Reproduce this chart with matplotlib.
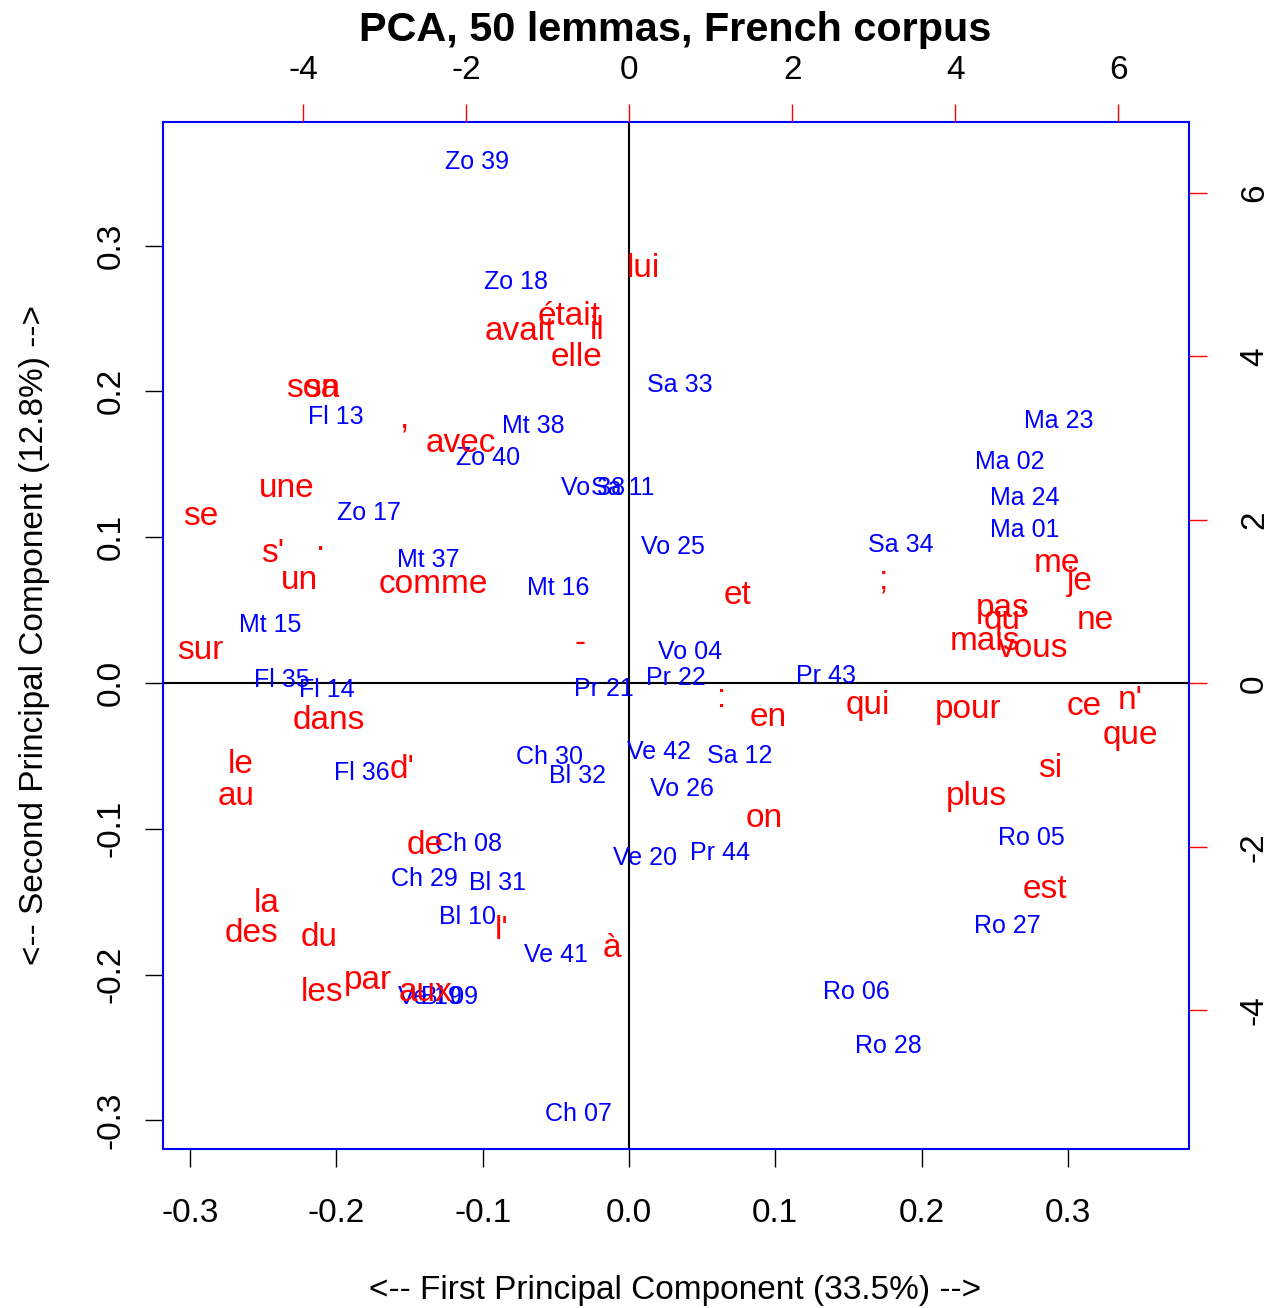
import matplotlib
matplotlib.use("Agg")
from matplotlib import pyplot as plt
import numpy as np

plt.rcParams['font.family'] = ['Liberation Sans', 'DejaVu Sans']
plt.rcParams['axes.unicode_minus'] = False

# observations (texts), first/second principal component scores
obs_labels = ["Zo 39", "Zo 18", "Sa 33", "Fl 13", "Mt 38", "Zo 40", "Ma 23", "Ma 02",
              "Ma 24", "Ma 01", "Vo 38", "Sa 11", "Zo 17", "Vo 25", "Sa 34", "Mt 37",
              "Mt 16", "Mt 15", "Vo 04", "Pr 22", "Pr 43", "Fl 35", "Fl 14", "Pr 21",
              "Ch 30", "Bl 32", "Ve 42", "Sa 12", "Fl 36", "Vo 26", "Ro 05", "Ch 08",
              "Ve 20", "Pr 44", "Ch 29", "Bl 31", "Ro 27", "Bl 10", "Ve 41", "Ro 06",
              "Ve 19", "Bl 09", "Ro 28", "Ch 07"]
obs_pc1 = [-0.1039, -0.0772, 0.0349, -0.2003, -0.0656, -0.0964, 0.2939, 0.2604,
           0.2707, 0.2707, -0.0246, -0.0041, -0.1777, 0.0301, 0.1859, -0.1374,
           -0.0485, -0.2454, 0.0417, 0.0321, 0.1347, -0.2372, -0.2064, -0.0171,
           -0.0540, -0.0355, 0.0205, 0.0759, -0.1825, 0.0362, 0.2748, -0.1100,
           0.0109, 0.0622, -0.1401, -0.0902, 0.2584, -0.1107, -0.0499, 0.1552,
           -0.1360, -0.1224, 0.1770, -0.0342]
obs_pc2 = [0.3573, 0.2750, 0.2044, 0.1824, 0.1763, 0.1543, 0.1797, 0.1516,
           0.1269, 0.1049, 0.1337, 0.1337, 0.1166, 0.0933, 0.0947, 0.0844,
           0.0652, 0.0398, 0.0213, 0.0034, 0.0048, 0.0021, -0.0048, -0.0041,
           -0.0508, -0.0638, -0.0473, -0.0501, -0.0617, -0.0727, -0.1063, -0.1104,
           -0.1200, -0.1166, -0.1344, -0.1372, -0.1667, -0.1605, -0.1866, -0.2119,
           -0.2154, -0.2154, -0.2490, -0.2956]

# lemmas (loadings, on the top/right scale)
word_labels = ["lui", "était", "avait", "il", "elle", "son", "sa", ",", ".", "-", ";", ":",
               "avec", "une", "se", "s'", "un", "comme", "sur", "et", "me", "je", "pas",
               "qu'", "mais", "vous", "ne", "n'", "ce", "que", "qui", "pour", "en", "si",
               "plus", "on", "est", "dans", "le", "au", "d'", "de", "la", "des", "du",
               "l'", "à", "les", "par", "aux"]
word_pc1 = [0.18, -0.74, -1.34, -0.39, -0.64, -3.88, -3.77, -2.76, -3.79, -0.60, 3.12, 1.13,
            -2.07, -4.20, -5.26, -4.37, -4.05, -2.40, -5.26, 1.33, 5.25, 5.53, 4.59,
            4.61, 4.37, 4.96, 5.72, 6.15, 5.58, 6.15, 2.93, 4.16, 1.71, 5.17,
            4.26, 1.66, 5.10, -3.68, -4.77, -4.82, -2.79, -2.50, -4.45, -4.63, -3.80,
            -1.56, -0.21, -3.77, -3.21, -2.50]
word_pc2 = [5.08, 4.49, 4.31, 4.32, 3.99, 3.61, 3.61, 3.24, 1.74, 0.49, 1.27, -0.18,
            2.94, 2.39, 2.04, 1.59, 1.26, 1.21, 0.40, 1.08, 1.47, 1.24, 0.92,
            0.77, 0.51, 0.43, 0.77, -0.21, -0.28, -0.64, -0.27, -0.32, -0.42, -1.04,
            -1.38, -1.65, -2.52, -0.45, -1.00, -1.38, -1.06, -1.98, -2.70, -3.06, -3.11,
            -3.03, -3.24, -3.78, -3.64, -3.79]

pc_ticks = [-0.3, -0.2, -0.1, 0.0, 0.1, 0.2, 0.3]
load_ticks = [-4, -2, 0, 2, 4, 6]

blue = '#0000FF'
red = '#FF0000'

fig = plt.figure(figsize=(12.71, 13.08), dpi=100)
W, H = 1271, 1308
x0, x1, y0, y1 = 163, 1189, 122, 1149
rect = [x0 / W, 1 - y1 / H, (x1 - x0) / W, (y1 - y0) / H]

ax = fig.add_axes(rect)
ax.set_xlim(-0.3185, 0.3828)
ax.set_ylim(-0.3196, 0.3848)
ax.set_xticks(pc_ticks)
ax.set_yticks(pc_ticks)
ax.set_xticklabels(["%.1f" % t for t in pc_ticks])
ax.set_yticklabels(["%.1f" % t for t in pc_ticks], rotation=90, va='center')
ax.tick_params(axis='both', direction='out', length=13, width=1, colors='black',
               labelsize=24)
ax.tick_params(axis='x', pad=22)
ax.tick_params(axis='y', pad=13)
for s in ax.spines.values():
    s.set_color(blue)
    s.set_linewidth(1.5)
ax.axhline(0, color='black', lw=1.5, zorder=1)
ax.axvline(0, color='black', lw=1.5, zorder=1)

for lab, px, py in zip(obs_labels, obs_pc1, obs_pc2):
    ax.text(px, py, lab, color=blue, fontsize=18, ha='center', va='center', zorder=3)

ax2 = fig.add_axes(rect, frameon=False)
ax2.patch.set_alpha(0)
ax2.set_xlim(-5.72, 6.87)
ax2.set_ylim(-5.70, 6.87)
ax2.xaxis.tick_top()
ax2.yaxis.tick_right()
ax2.set_xticks(load_ticks)
ax2.set_yticks(load_ticks)
ax2.set_xticklabels([str(t) for t in load_ticks])
ax2.set_yticklabels([str(t) for t in load_ticks], rotation=90, va='center')
ax2.tick_params(axis='both', direction='out', length=13, width=1, color=red,
                labelcolor='black', labelsize=24)
ax2.tick_params(axis='x', pad=13)
ax2.tick_params(axis='y', pad=23)

for lab, px, py in zip(word_labels, word_pc1, word_pc2):
    ax2.text(px, py, lab, color=red, fontsize=24, ha='center', va='center', zorder=4)

fig.text(675 / W, 1 - 30 / H, "PCA, 50 lemmas, French corpus", fontsize=29.8,
         fontweight='bold', ha='center', va='center')
fig.text(675 / W, 1 - 1290 / H, "<-- First Principal Component (33.5%) -->",
         fontsize=24, ha='center', va='center')
fig.text(35 / W, 1 - 635 / H, "<-- Second Principal Component (12.8%) -->",
         fontsize=24, ha='center', va='center', rotation=90)

plt.savefig("out.png", dpi=100)
